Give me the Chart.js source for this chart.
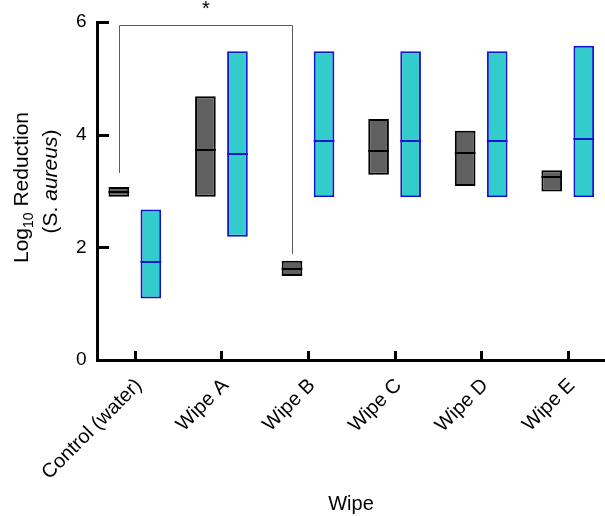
<!DOCTYPE html>
<html>
<head>
<meta charset="utf-8">
<script src="https://cdn.jsdelivr.net/npm/chart.js@4.4.1/dist/chart.umd.min.js"></script>
<style>
html,body{margin:0;padding:0;background:#ffffff;}
#wrap{width:605px;height:516px;}
</style>
</head>
<body>
<div id="wrap"><canvas id="c" width="605" height="516"></canvas></div>
<script>
// ---- data ----
const categories = ['Control (water)', 'Wipe A', 'Wipe B', 'Wipe C', 'Wipe D', 'Wipe E'];
const grayMin    = [2.90, 2.90, 1.49, 3.29, 3.09, 2.99];
const grayMedian = [2.98, 3.72, 1.61, 3.71, 3.67, 3.25];
const grayMax    = [3.07, 4.68, 1.76, 4.28, 4.07, 3.37];
const cyanMin    = [1.09, 2.19, 2.89, 2.89, 2.89, 2.89];
const cyanMedian = [1.74, 3.65, 3.88, 3.88, 3.88, 3.93];
const cyanMax    = [2.67, 5.48, 5.48, 5.48, 5.48, 5.58];
const yTicks = [0, 2, 4, 6];
const bracketFrom = 0, bracketTo = 2;
const bracketTop = 5.94, bracketLeftEnd = 3.32, bracketRightEnd = 1.88;
const bracketLabel = '*';

const FONT = 'Arial, "Liberation Sans", Helvetica, sans-serif';
Chart.defaults.font.family = FONT;
Chart.defaults.color = '#000';

const GRAY_FILL = 'rgb(96,96,96)';
const GRAY_EDGE = '#000000';
const CYAN_FILL = 'rgb(51,204,204)';
const CYAN_EDGE = 'rgb(20,20,205)';

function rangeData(lo, hi) {
  return categories.map((_, i) => ({ x: i, y: [lo[i], hi[i]] }));
}
const common = { categoryPercentage: 0.74, barPercentage: 0.645, borderWidth: 2, borderSkipped: false, inflateAmount: 0 };

const datasets = [
  Object.assign({ label: 'gray', stack: 'g', data: rangeData(grayMin, grayMax),
    backgroundColor: GRAY_FILL, borderColor: GRAY_EDGE, medians: grayMedian }, common),
  Object.assign({ label: 'cyan', stack: 'c', data: rangeData(cyanMin, cyanMax),
    backgroundColor: CYAN_FILL, borderColor: CYAN_EDGE, medians: cyanMedian }, common)
];

// median lines inside each floating bar
const medianLines = {
  id: 'medianLines',
  afterDatasetsDraw(chart) {
    const { ctx, scales: { y } } = chart;
    ctx.save();
    chart.data.datasets.forEach((ds, di) => {
      const meta = chart.getDatasetMeta(di);
      ctx.strokeStyle = ds.borderColor;
      ctx.lineWidth = 2;
      meta.data.forEach((bar, i) => {
        const py = Math.round(y.getPixelForValue(ds.medians[i]));
        ctx.beginPath();
        ctx.moveTo(bar.x - bar.width / 2, py);
        ctx.lineTo(bar.x + bar.width / 2, py);
        ctx.stroke();
      });
    });
    ctx.restore();
  }
};

// inward tick marks
const tickMarks = {
  id: 'tickMarks',
  afterDraw(chart) {
    const { ctx, scales: { x, y } } = chart;
    ctx.save();
    ctx.strokeStyle = '#000';
    ctx.lineWidth = 3;
    ctx.beginPath();
    yTicks.forEach(v => {
      const py = Math.round(y.getPixelForValue(v)) + 0.5;
      ctx.moveTo(y.right - 1, py);
      ctx.lineTo(y.right + 12, py);
    });
    categories.forEach((_, i) => {
      const px = Math.round(x.getPixelForValue(i)) + 0.5;
      ctx.moveTo(px, x.top + 1);
      ctx.lineTo(px, x.top - 9);
    });
    ctx.stroke();
    ctx.restore();
  }
};

// significance bracket
const bracketPlugin = {
  id: 'bracket',
  afterDatasetsDraw(chart) {
    const { ctx, scales: { y } } = chart;
    const meta = chart.getDatasetMeta(0);
    const x1 = Math.round(meta.data[bracketFrom].x) + 0.5;
    const x2 = Math.round(meta.data[bracketTo].x) + 0.5;
    const yt = Math.round(y.getPixelForValue(bracketTop)) + 0.5;
    const y1 = y.getPixelForValue(bracketLeftEnd);
    const y2 = y.getPixelForValue(bracketRightEnd);
    ctx.save();
    ctx.strokeStyle = 'rgb(90,90,90)';
    ctx.lineWidth = 1;
    ctx.beginPath();
    ctx.moveTo(x1, y1);
    ctx.lineTo(x1, yt);
    ctx.lineTo(x2, yt);
    ctx.lineTo(x2, y2);
    ctx.stroke();
    ctx.fillStyle = '#000';
    ctx.font = '20px ' + FONT;
    ctx.textAlign = 'center';
    ctx.textBaseline = 'alphabetic';
    ctx.fillText(bracketLabel, (x1 + x2) / 2, yt - 11);
    ctx.restore();
  }
};

// y-axis title with subscript and italic
const yTitle = {
  id: 'yTitle',
  afterDraw(chart) {
    const { ctx } = chart;
    const big = '21px ' + FONT;
    const small = '14px ' + FONT;
    const ital = 'italic 21px ' + FONT;
    ctx.save();
    ctx.fillStyle = '#000';
    ctx.textBaseline = 'alphabetic';
    ctx.textAlign = 'left';
    ctx.save();
    ctx.translate(28, 187.5);
    ctx.rotate(-Math.PI / 2);
    const p1 = 'Log', p2 = '10', p3 = ' Reduction';
    ctx.font = big; const w1 = ctx.measureText(p1).width, w3 = ctx.measureText(p3).width;
    ctx.font = small; const w2 = ctx.measureText(p2).width;
    let sx = -(w1 + w2 + w3) / 2;
    ctx.font = big; ctx.fillText(p1, sx, 0); sx += w1;
    ctx.font = small; ctx.fillText(p2, sx, 5); sx += w2;
    ctx.font = big; ctx.fillText(p3, sx, 0);
    ctx.restore();
    ctx.save();
    ctx.translate(57, 181.5);
    ctx.rotate(-Math.PI / 2);
    const q1 = '(S. ', q2 = 'aureus', q3 = ')';
    ctx.font = big; const v1 = ctx.measureText(q1).width, v3 = ctx.measureText(q3).width;
    ctx.font = ital; const v2 = ctx.measureText(q2).width;
    let tx = -(v1 + v2 + v3) / 2;
    ctx.font = big; ctx.fillText(q1, tx, 0); tx += v1;
    ctx.font = ital; ctx.fillText(q2, tx, 0); tx += v2;
    ctx.font = big; ctx.fillText(q3, tx, 0);
    ctx.restore();
    ctx.restore();
  }
};

new Chart(document.getElementById('c'), {
  type: 'bar',
  data: { datasets },
  options: {
    responsive: false,
    animation: false,
    devicePixelRatio: 1,
    layout: { padding: { top: 22, left: 0, right: 0, bottom: 0 } },
    plugins: {
      legend: { display: false },
      tooltip: { enabled: false }
    },
    scales: {
      x: {
        type: 'linear', min: -0.437, max: 5.43, stacked: true, offset: false,
        afterBuildTicks: s => { s.ticks = categories.map((_, i) => ({ value: i })); },
        afterFit: s => { s.height = 156; },
        grid: { display: false, drawTicks: false },
        border: { display: true, color: '#000', width: 3 },
        title: {
          display: true, text: 'Wipe', color: '#000',
          font: { family: FONT, size: 20, weight: 'normal', lineHeight: 1.2 },
          padding: { top: 0, bottom: 0 }
        },
        ticks: {
          autoSkip: false, maxRotation: 45, minRotation: 45, padding: 14, labelOffset: 4,
          color: '#000', font: { family: FONT, size: 20 },
          callback: v => categories[v]
        }
      },
      y: {
        min: 0, max: 6, stacked: false,
        afterBuildTicks: s => { s.ticks = yTicks.map(v => ({ value: v })); },
        afterFit: s => { s.width = 97; },
        grid: { display: false, drawTicks: false },
        border: { display: true, color: '#000', width: 3 },
        ticks: { padding: 10.5, color: '#000', font: { family: FONT, size: 19 } }
      }
    }
  },
  plugins: [medianLines, tickMarks, bracketPlugin, yTitle]
});
</script>
</body>
</html>
